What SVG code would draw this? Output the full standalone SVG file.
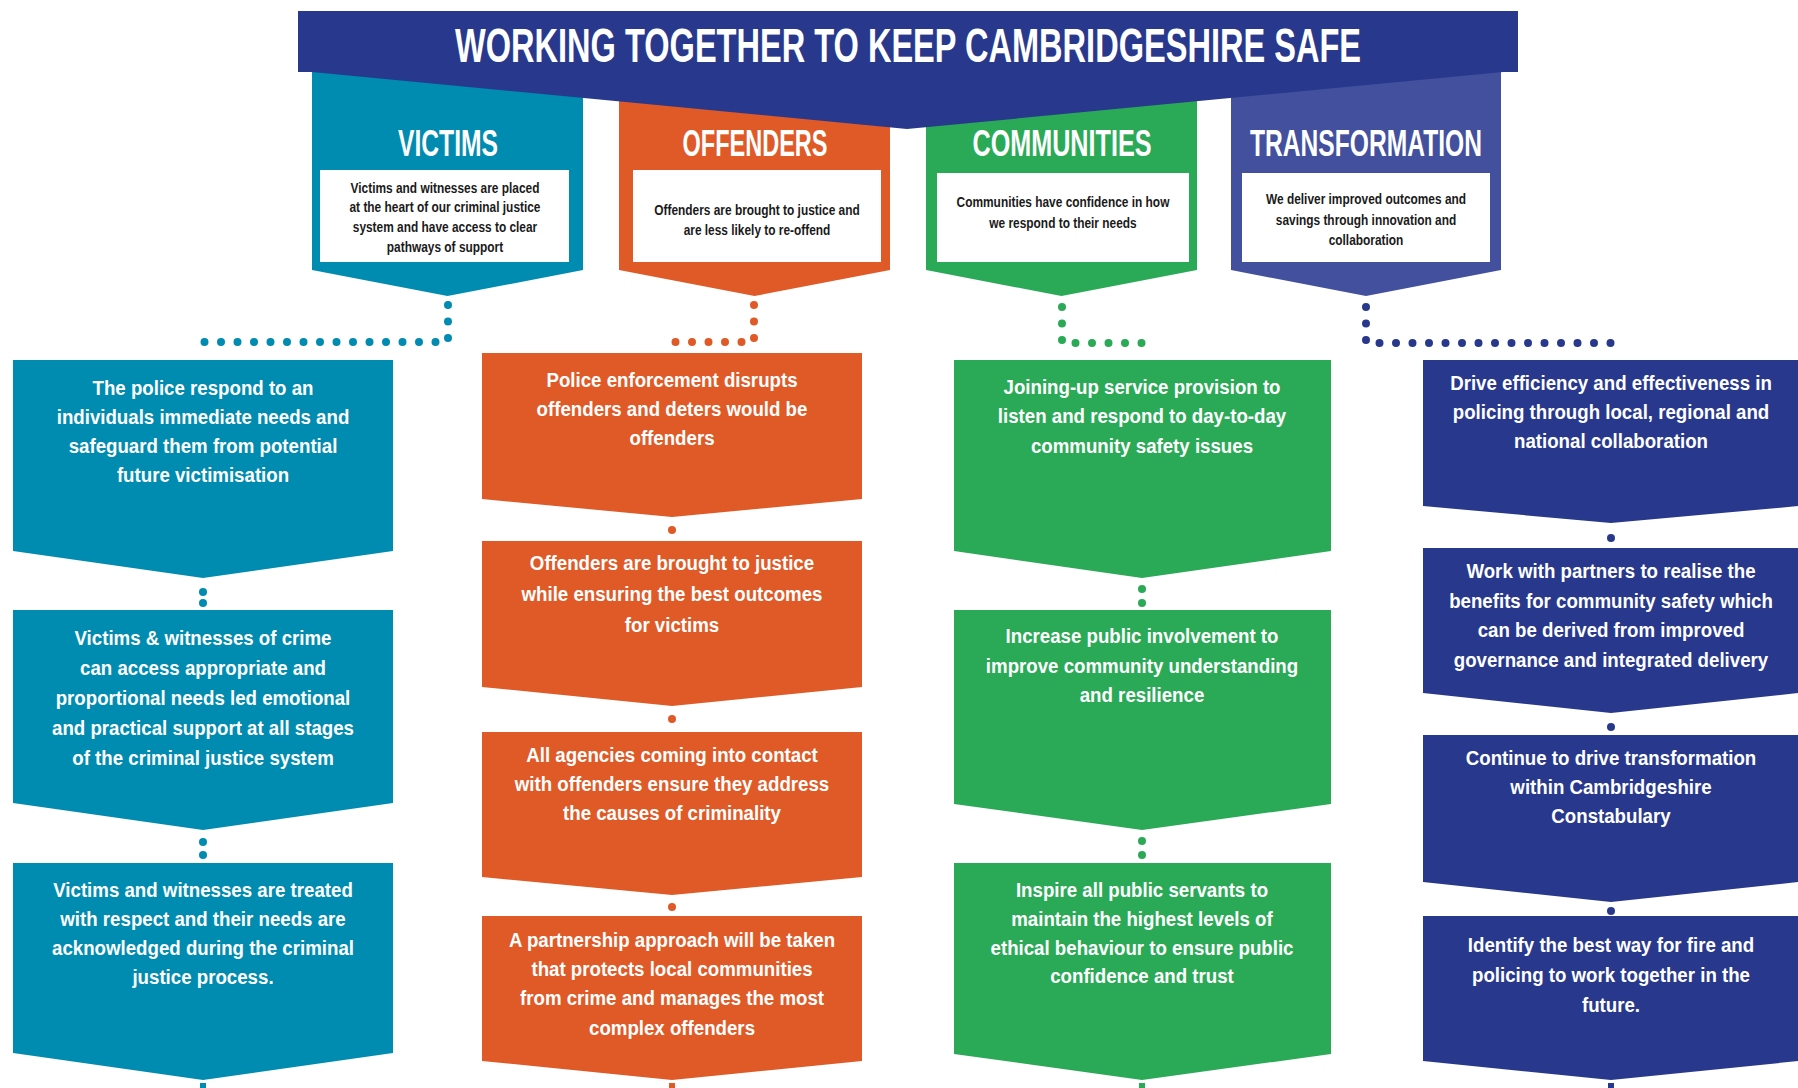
<svg xmlns="http://www.w3.org/2000/svg" width="1798" height="1088" viewBox="0 0 1798 1088">
  <style>
    .bg { fill: #ffffff; }
    .victims { fill: #008bb0; }
    .offenders { fill: #df5a27; }
    .communities { fill: #2aaa56; }
    .transform-cat { fill: #43509e; }
    .navy { fill: #28398d; }
    .card { fill: #ffffff; }
    .title { font-family: "Liberation Sans", Arial, sans-serif; font-weight: bold; font-size: 48px; fill: #ffffff; text-anchor: middle; }
    .cat { font-family: "Liberation Sans", Arial, sans-serif; font-weight: bold; font-size: 37px; fill: #ffffff; text-anchor: middle; }
    .intro { font-family: "Liberation Sans", Arial, sans-serif; font-weight: bold; font-size: 14px; fill: #1a1a1a; text-anchor: middle; }
    .item { font-family: "Liberation Sans", Arial, sans-serif; font-weight: bold; font-size: 21px; fill: #ffffff; text-anchor: middle; }
    .dots { fill: none; stroke-width: 8; stroke-linecap: round; stroke-dasharray: 0 16.5; }
    .dots.v { stroke: #008bb0; }
    .dots.o { stroke: #df5a27; }
    .dots.c { stroke: #2aaa56; }
    .dots.t { stroke: #28398d; }
    .dot-v { fill: #008bb0; }
    .dot-o { fill: #df5a27; }
    .dot-c { fill: #2aaa56; }
    .dot-t { fill: #28398d; }
  </style>

  <rect class="bg" x="0" y="0" width="1798" height="1088"/>

  <!-- Category pillars (tops run under the banner) -->
  <g id="cat-victims">
    <polygon class="victims" points="312,70 583,70 583,270 447.5,296 312,270"/>
    <text class="cat" x="448" y="156" textLength="100" lengthAdjust="spacingAndGlyphs">VICTIMS</text>
    <rect class="card" x="320" y="170" width="249" height="92"/>
    <g transform="translate(445 0) scale(0.85 1)">
      <text class="intro" x="0" y="193">Victims and witnesses are placed</text>
      <text class="intro" x="0" y="212">at the heart of our criminal justice</text>
      <text class="intro" x="0" y="232">system and have access to clear</text>
      <text class="intro" x="0" y="252">pathways of support</text>
    </g>
  </g>

  <g id="cat-offenders">
    <polygon class="offenders" points="619,70 890,70 890,270 754.5,296 619,270"/>
    <text class="cat" x="755" y="156" textLength="145" lengthAdjust="spacingAndGlyphs">OFFENDERS</text>
    <rect class="card" x="633" y="170" width="248" height="92"/>
    <g transform="translate(757 0) scale(0.85 1)">
      <text class="intro" x="0" y="215">Offenders are brought to justice and</text>
      <text class="intro" x="0" y="235">are less likely to re-offend</text>
    </g>
  </g>

  <g id="cat-communities">
    <polygon class="communities" points="926,70 1197,70 1197,270 1061.5,296 926,270"/>
    <text class="cat" x="1062" y="156" textLength="179" lengthAdjust="spacingAndGlyphs">COMMUNITIES</text>
    <rect class="card" x="937" y="173" width="252" height="89"/>
    <g transform="translate(1063 0) scale(0.85 1)">
      <text class="intro" x="0" y="207">Communities have confidence in how</text>
      <text class="intro" x="0" y="228">we respond to their needs</text>
    </g>
  </g>

  <g id="cat-transformation">
    <polygon class="transform-cat" points="1231,70 1501,70 1501,270 1366,296 1231,270"/>
    <text class="cat" x="1366" y="156" textLength="232" lengthAdjust="spacingAndGlyphs">TRANSFORMATION</text>
    <rect class="card" x="1242" y="173" width="248" height="89"/>
    <g transform="translate(1366 0) scale(0.85 1)">
      <text class="intro" x="0" y="204">We deliver improved outcomes and</text>
      <text class="intro" x="0" y="225">savings through innovation and</text>
      <text class="intro" x="0" y="245">collaboration</text>
    </g>
  </g>

  <!-- Banner across the top, pointing down over the pillars -->
  <g id="banner">
    <path class="navy" d="M298,11 H1518 V72 H1503 L907,129 L312,72 H298 Z"/>
    <text class="title" x="908" y="62" textLength="906" lengthAdjust="spacingAndGlyphs">WORKING TOGETHER TO KEEP CAMBRIDGESHIRE SAFE</text>
  </g>

  <!-- Dotted connectors -->
  <g id="connectors">
    <path class="dots v" d="M448,305 V342 H203 V357"/>
    <path class="dots o" d="M754,305 V342 H672"/>
    <path class="dots c" d="M1062,307 V343 H1142"/>
    <path class="dots t" d="M1366,307 V343 H1611 V357"/>

    <circle class="dot-v" cx="203" cy="592" r="4"/>
    <circle class="dot-v" cx="203" cy="603" r="4"/>
    <circle class="dot-v" cx="203" cy="842" r="4"/>
    <circle class="dot-v" cx="203" cy="855" r="4"/>
    <rect class="dot-v" x="200" y="1083" width="6" height="5"/>

    <circle class="dot-o" cx="672" cy="530" r="4"/>
    <circle class="dot-o" cx="672" cy="719" r="4"/>
    <circle class="dot-o" cx="672" cy="907" r="4"/>
    <rect class="dot-o" x="669" y="1083" width="6" height="5"/>

    <circle class="dot-c" cx="1142" cy="589" r="4"/>
    <circle class="dot-c" cx="1142" cy="603" r="4"/>
    <circle class="dot-c" cx="1142" cy="841" r="4"/>
    <circle class="dot-c" cx="1142" cy="855" r="4"/>
    <rect class="dot-c" x="1139" y="1083" width="6" height="5"/>

    <circle class="dot-t" cx="1611" cy="538" r="4"/>
    <circle class="dot-t" cx="1611" cy="727" r="4"/>
    <circle class="dot-t" cx="1611" cy="911" r="4"/>
    <rect class="dot-t" x="1608" y="1083" width="6" height="5"/>
  </g>

  <!-- Victims column -->
  <g id="victims-1">
    <polygon class="victims" points="13,360 393,360 393,551 203,578 13,551"/>
    <g transform="translate(203 0) scale(0.89 1)">
      <text class="item" x="0" y="395">The police respond to an</text>
      <text class="item" x="0" y="424">individuals immediate needs and</text>
      <text class="item" x="0" y="453">safeguard them from potential</text>
      <text class="item" x="0" y="482">future victimisation</text>
    </g>
  </g>
  <g id="victims-2">
    <polygon class="victims" points="13,610 393,610 393,803 203,830 13,803"/>
    <g transform="translate(203 0) scale(0.89 1)">
      <text class="item" x="0" y="645">Victims &amp; witnesses of crime</text>
      <text class="item" x="0" y="675">can access appropriate and</text>
      <text class="item" x="0" y="705">proportional needs led emotional</text>
      <text class="item" x="0" y="735">and practical support at all stages</text>
      <text class="item" x="0" y="765">of the criminal justice system</text>
    </g>
  </g>
  <g id="victims-3">
    <polygon class="victims" points="13,863 393,863 393,1053 203,1080 13,1053"/>
    <g transform="translate(203 0) scale(0.89 1)">
      <text class="item" x="0" y="897">Victims and witnesses are treated</text>
      <text class="item" x="0" y="926">with respect and their needs are</text>
      <text class="item" x="0" y="955">acknowledged during the criminal</text>
      <text class="item" x="0" y="984">justice process.</text>
    </g>
  </g>

  <!-- Offenders column -->
  <g id="offenders-1">
    <polygon class="offenders" points="482,353 862,353 862,499 672,517 482,499"/>
    <g transform="translate(672 0) scale(0.89 1)">
      <text class="item" x="0" y="387">Police enforcement disrupts</text>
      <text class="item" x="0" y="416">offenders and deters would be</text>
      <text class="item" x="0" y="445">offenders</text>
    </g>
  </g>
  <g id="offenders-2">
    <polygon class="offenders" points="482,541 862,541 862,687 672,706 482,687"/>
    <g transform="translate(672 0) scale(0.89 1)">
      <text class="item" x="0" y="570">Offenders are brought to justice</text>
      <text class="item" x="0" y="601">while ensuring the best outcomes</text>
      <text class="item" x="0" y="632">for victims</text>
    </g>
  </g>
  <g id="offenders-3">
    <polygon class="offenders" points="482,732 862,732 862,877 672,895 482,877"/>
    <g transform="translate(672 0) scale(0.89 1)">
      <text class="item" x="0" y="762">All agencies coming into contact</text>
      <text class="item" x="0" y="791">with offenders ensure they address</text>
      <text class="item" x="0" y="820">the causes of criminality</text>
    </g>
  </g>
  <g id="offenders-4">
    <polygon class="offenders" points="482,916 862,916 862,1061 672,1080 482,1061"/>
    <g transform="translate(672 0) scale(0.89 1)">
      <text class="item" x="0" y="947">A partnership approach will be taken</text>
      <text class="item" x="0" y="976">that protects local communities</text>
      <text class="item" x="0" y="1005">from crime and manages the most</text>
      <text class="item" x="0" y="1035">complex offenders</text>
    </g>
  </g>

  <!-- Communities column -->
  <g id="communities-1">
    <polygon class="communities" points="954,360 1331,360 1331,551 1142,578 954,551"/>
    <g transform="translate(1142 0) scale(0.89 1)">
      <text class="item" x="0" y="394">Joining-up service provision to</text>
      <text class="item" x="0" y="423">listen and respond to day-to-day</text>
      <text class="item" x="0" y="453">community safety issues</text>
    </g>
  </g>
  <g id="communities-2">
    <polygon class="communities" points="954,610 1331,610 1331,804 1142,830 954,804"/>
    <g transform="translate(1142 0) scale(0.89 1)">
      <text class="item" x="0" y="643">Increase public involvement to</text>
      <text class="item" x="0" y="673">improve community understanding</text>
      <text class="item" x="0" y="702">and resilience</text>
    </g>
  </g>
  <g id="communities-3">
    <polygon class="communities" points="954,863 1331,863 1331,1054 1142,1080 954,1054"/>
    <g transform="translate(1142 0) scale(0.89 1)">
      <text class="item" x="0" y="897">Inspire all public servants to</text>
      <text class="item" x="0" y="926">maintain the highest levels of</text>
      <text class="item" x="0" y="955">ethical behaviour to ensure public</text>
      <text class="item" x="0" y="983">confidence and trust</text>
    </g>
  </g>

  <!-- Transformation column -->
  <g id="transformation-1">
    <polygon class="navy" points="1423,360 1799,360 1799,506 1611,523 1423,506"/>
    <g transform="translate(1611 0) scale(0.89 1)">
      <text class="item" x="0" y="390">Drive efficiency and effectiveness in</text>
      <text class="item" x="0" y="419">policing through local, regional and</text>
      <text class="item" x="0" y="448">national collaboration</text>
    </g>
  </g>
  <g id="transformation-2">
    <polygon class="navy" points="1423,548 1799,548 1799,693 1611,713 1423,693"/>
    <g transform="translate(1611 0) scale(0.89 1)">
      <text class="item" x="0" y="578">Work with partners to realise the</text>
      <text class="item" x="0" y="608">benefits for community safety which</text>
      <text class="item" x="0" y="637">can be derived from improved</text>
      <text class="item" x="0" y="667">governance and integrated delivery</text>
    </g>
  </g>
  <g id="transformation-3">
    <polygon class="navy" points="1423,735 1799,735 1799,882 1611,902 1423,882"/>
    <g transform="translate(1611 0) scale(0.89 1)">
      <text class="item" x="0" y="765">Continue to drive transformation</text>
      <text class="item" x="0" y="794">within Cambridgeshire</text>
      <text class="item" x="0" y="823">Constabulary</text>
    </g>
  </g>
  <g id="transformation-4">
    <polygon class="navy" points="1423,916 1799,916 1799,1061 1611,1080 1423,1061"/>
    <g transform="translate(1611 0) scale(0.89 1)">
      <text class="item" x="0" y="952">Identify the best way for fire and</text>
      <text class="item" x="0" y="982">policing to work together in the</text>
      <text class="item" x="0" y="1012">future.</text>
    </g>
  </g>
</svg>
